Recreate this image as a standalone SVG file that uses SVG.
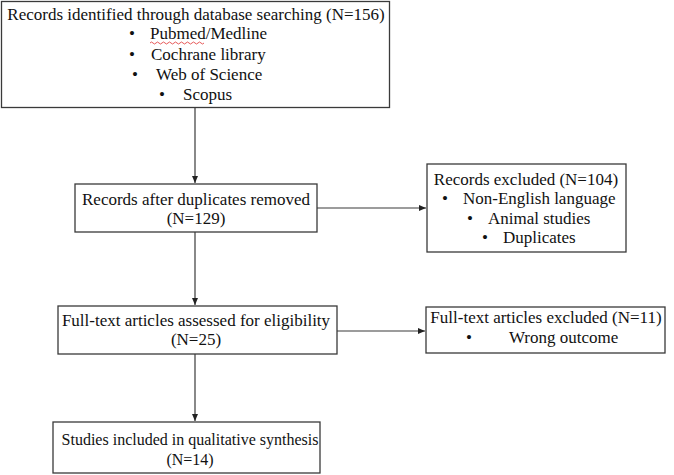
<svg xmlns="http://www.w3.org/2000/svg" width="674" height="475" viewBox="0 0 674 475">
<style>
.box{fill:#fff;stroke:#3a3a3a;stroke-width:1.3}
text{font-family:"Liberation Serif","Times New Roman",serif;font-size:17px;fill:#111}
.c{text-anchor:middle}
.s{font-size:16px}
.conn line{stroke:#3a3a3a;stroke-width:1.2}
</style>
<defs>
<marker id="ah" markerWidth="8" markerHeight="8" refX="7" refY="4" orient="auto" markerUnits="userSpaceOnUse">
<path d="M0,1 L7,4 L0,7 Z" fill="#222"/>
</marker>
</defs>
<rect width="674" height="475" fill="#fff"/>
<g class="conn">
<line x1="195" y1="108" x2="195" y2="183" marker-end="url(#ah)"/>
<line x1="317" y1="208" x2="426" y2="208" marker-end="url(#ah)"/>
<line x1="195" y1="232" x2="195" y2="305" marker-end="url(#ah)"/>
<line x1="337" y1="331" x2="425" y2="331" marker-end="url(#ah)"/>
<line x1="195" y1="354" x2="195" y2="421" marker-end="url(#ah)"/>
</g>
<g id="identified">
<rect class="box" x="1.5" y="1.5" width="388" height="106"/>
<text class="c" x="196" y="20">Records identified through database searching (N=156)</text>
<text x="129" y="39">•</text><text x="150" y="39">Pubmed/Medline</text>
<path d="M150,43 q1.5,-2 3,0 t3,0 t3,0 t3,0 t3,0 t3,0 t3,0 t3,0 t3,0 t3,0 t3,0 t3,0 t3,0 t3,0 t3,0 t3,0 t3,0 t3,0" fill="none" stroke="#e03030" stroke-width="0.8"/>
<text x="129" y="60">•</text><text x="151" y="60">Cochrane library</text>
<text x="132" y="80">•</text><text x="156" y="80">Web of Science</text>
<text x="159" y="100">•</text><text x="183" y="100">Scopus</text>
</g>
<g id="dedup">
<rect class="box" x="75" y="184" width="242" height="48"/>
<text class="c" x="196" y="205">Records after duplicates removed</text>
<text class="c" x="196" y="224">(N=129)</text>
</g>
<g id="excluded">
<rect class="box" x="427" y="164" width="199" height="88"/>
<text class="c" x="526" y="185">Records excluded (N=104)</text>
<text x="442" y="204">•</text><text x="463" y="204">Non-English language</text>
<text x="467" y="224">•</text><text x="488" y="224">Animal studies</text>
<text x="482" y="243">•</text><text x="503" y="243">Duplicates</text>
</g>
<g id="fulltext">
<rect class="box" x="58" y="306" width="279" height="48"/>
<text class="c" x="196" y="326">Full-text articles assessed for eligibility</text>
<text class="c" x="196" y="345">(N=25)</text>
</g>
<g id="ftexcluded">
<rect class="box" x="426" y="307" width="239" height="46"/>
<text class="c" x="546" y="323">Full-text articles excluded (N=11)</text>
<text x="466" y="343">•</text><text x="509" y="343">Wrong outcome</text>
</g>
<g id="included">
<rect class="box" x="53" y="422" width="267" height="51"/>
<text class="c s" x="190" y="445">Studies included in qualitative synthesis</text>
<text class="c s" x="190" y="465">(N=14)</text>
</g>
</svg>
